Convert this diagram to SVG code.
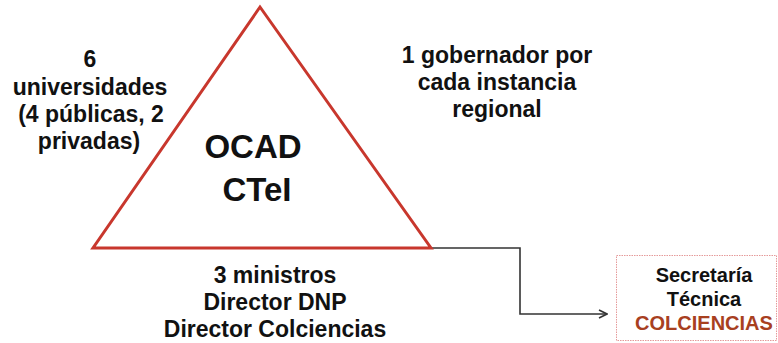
<svg xmlns="http://www.w3.org/2000/svg" width="778" height="343" viewBox="0 0 778 343">
<defs>
<style>
text{font-family:"Liberation Sans",Arial,Helvetica,sans-serif;font-weight:bold;text-anchor:middle;fill:#111}
.t23{font-size:23px}
.t33{font-size:33px}
.t20{font-size:20px}
.conn{fill:none;stroke:#333;stroke-width:1.6}
</style>
<marker id="arr" viewBox="0 0 10 10" refX="9" refY="5" markerWidth="10" markerHeight="10" markerUnits="userSpaceOnUse" orient="auto">
<path d="M1,1 L9,5 L1,9" fill="none" stroke="#333" stroke-width="1.6"/>
</marker>
</defs>
<rect width="778" height="343" fill="#fff"/>
<g id="connectors">
<path class="conn" d="M431,248 H520 V314 H607" marker-end="url(#arr)"/>
</g>
<g id="ocad">
<polygon points="260,7 93,248 431,248" fill="#fff" stroke="#c8372d" stroke-width="3" stroke-linejoin="miter"/>
<text class="t33" x="253" y="158">OCAD</text>
<text class="t33" x="257" y="201">CTeI</text>
</g>
<g id="universidades">
<text class="t23" x="90" y="67">6</text>
<text class="t23" x="90" y="95">universidades</text>
<text class="t23" x="91" y="122">(4 públicas, 2</text>
<text class="t23" x="89" y="149">privadas)</text>
</g>
<g id="gobernador">
<text class="t23" x="497" y="63">1 gobernador por</text>
<text class="t23" x="497" y="90">cada instancia</text>
<text class="t23" x="497" y="117">regional</text>
</g>
<g id="ministros">
<text class="t23" x="275" y="283">3 ministros</text>
<text class="t23" x="275" y="310">Director DNP</text>
<text class="t23" x="275" y="337">Director Colciencias</text>
</g>
<g id="secretaria">
<rect x="616.5" y="255.5" width="160" height="85" fill="#fff" stroke="#e59a9a" stroke-width="1" stroke-dasharray="1.5,1"/>
<text class="t20" x="704" y="282">Secretaría</text>
<text class="t20" x="704" y="306">Técnica</text>
<text class="t20" x="704" y="330" style="fill:#a8401f">COLCIENCIAS</text>
</g>
</svg>
